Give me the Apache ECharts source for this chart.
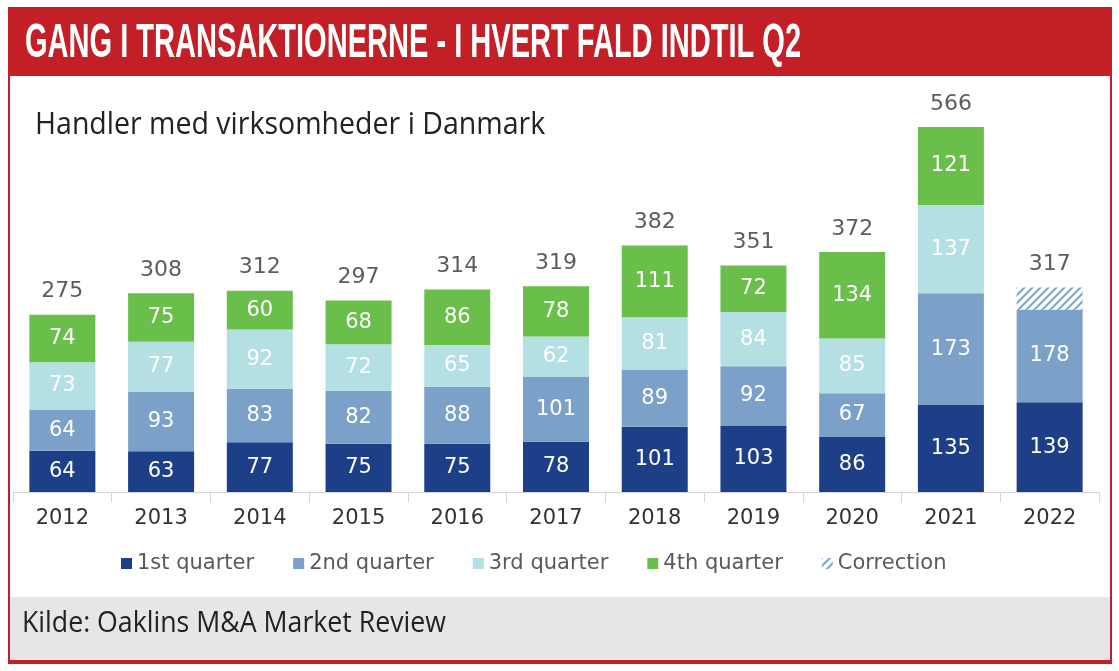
<!DOCTYPE html>
<html><head><meta charset="utf-8">
<script src="https://cdn.jsdelivr.net/npm/echarts@6/dist/echarts.min.js"></script>
<style>html,body{margin:0;padding:0;background:#fff}#c{width:1119px;height:671px}</style>
</head><body><div id="c"></div>
<script>
const years = ['2012','2013','2014','2015','2016','2017','2018','2019','2020','2021','2022'];
const q1 = [64,63,77,75,75,78,101,103,86,135,139];
const q2 = [64,93,83,82,88,101,89,92,67,173,178];
const q3 = [73,77,92,72,65,62,81,84,85,137,null];
const q4 = [74,75,60,68,86,78,111,72,134,121,null];
const correction = [null,null,null,null,null,null,null,null,null,null,34];
const totals = [275,308,312,297,314,319,382,351,372,566,317];

// hatch pattern
const pc = document.createElement('canvas');
pc.width = 8; pc.height = 8;
const g = pc.getContext('2d');
g.fillStyle = '#ffffff'; g.fillRect(0,0,8,8);
g.strokeStyle = '#7ea3c9'; g.lineWidth = 2;
g.beginPath();
g.moveTo(-2,10); g.lineTo(10,-2);
g.moveTo(-2,2); g.lineTo(2,-2);
g.moveTo(6,10); g.lineTo(10,6);
g.stroke();

// Q2 drawn part excludes the correction share shown hatched on top of it
const q2Drawn = q2.map((v,i) => correction[i] ? v - correction[i] : v);
const tops = years.map((y,i) => (q1[i]||0)+(q2Drawn[i]||0)+(q3[i]||0)+(q4[i]||0)+(correction[i]||0));

const FONT = 'DejaVu Sans';
const inLabel = {show:true, color:'#fff', fontSize:21, fontFamily:FONT};
function bar(name, data, color, labelData){
  return {name, type:'bar', stack:'s', data, barWidth:66,
    itemStyle:{color},
    label: labelData===false ? {show:false} : Object.assign({}, inLabel, labelData ? {formatter: p => labelData[p.dataIndex]} : {})
  };
}
const chart = echarts.init(document.getElementById('c'));
chart.setOption({
  animation:false,
  grid:{left:13, right:20, top:105, bottom:179},
  xAxis:{type:'category', data:years,
    axisLine:{lineStyle:{color:'#d6d6d6', width:1}},
    axisTick:{show:true, length:10, lineStyle:{color:'#d6d6d6'}},
    axisLabel:{color:'#333', fontSize:21, fontFamily:FONT, margin:16}},
  yAxis:{type:'value', min:0, max:600, show:false},
  legend:{left:116, top:548, itemWidth:11, itemHeight:11, itemGap:39,
    textStyle:{color:'#5a5a5a', fontSize:21, fontFamily:FONT, padding:[0,0,0,0]},
    data:[{name:'1st quarter',icon:'rect'},{name:'2nd quarter',icon:'rect'},{name:'3rd quarter',icon:'rect'},{name:'4th quarter',icon:'rect'},{name:'Correction',icon:'rect'}]},
  series:[
    bar('1st quarter', q1, '#1d3f87'),
    bar('2nd quarter', q2Drawn, '#7ba1c8', q2),
    bar('3rd quarter', q3, '#b4dfe3'),
    bar('4th quarter', q4, '#6abf4b'),
    bar('Correction', correction, {image: pc, repeat:'repeat'}, false),
    {name:'total', type:'scatter', data:tops, symbolSize:0, silent:true,
     label:{show:true, position:'top', distance:12, color:'#333', fontSize:22, fontFamily:FONT,
       formatter: p => totals[p.dataIndex]}}
  ],
  graphic:[
    {type:'rect', shape:{x:9, y:8, width:1102, height:655}, style:{fill:'none', stroke:'#c21f26', lineWidth:2}, z:1},
    {type:'rect', shape:{x:9, y:8, width:1102, height:68}, style:{fill:'#c21f26'}, z:2},
    {type:'text', x:25, y:44, scaleX:0.605, style:{text:'GANG I TRANSAKTIONERNE - I HVERT FALD INDTIL Q2', fill:'#fff', fontSize:48, fontWeight:'bold', fontFamily:'Liberation Sans', verticalAlign:'middle'}, z:3},
    {type:'text', x:35, y:125, scaleX:0.92, style:{text:'Handler med virksomheder i Danmark', fill:'#222', fontSize:31, fontFamily:'Open Sans', verticalAlign:'middle'}, z:3},
    {type:'rect', shape:{x:10, y:597, width:1100, height:63}, style:{fill:'#e6e6e8'}, z:2},
    {type:'rect', shape:{x:9, y:660, width:1102, height:3}, style:{fill:'#c21f26'}, z:3},
    {type:'text', x:22, y:623, scaleX:0.89, style:{text:'Kilde: Oaklins M&A Market Review', fill:'#222', fontSize:30, fontFamily:'Open Sans', verticalAlign:'middle'}, z:3}
  ]
});
</script></body></html>
